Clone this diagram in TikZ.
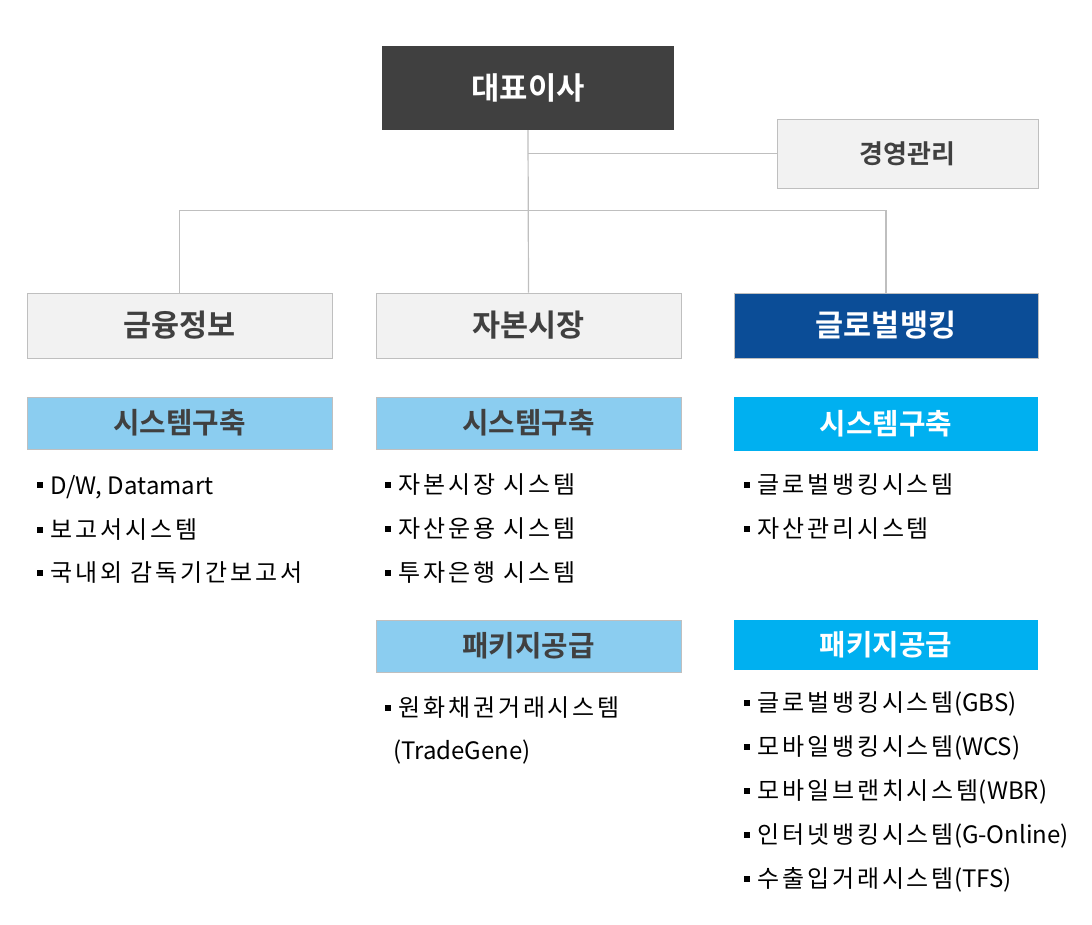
\documentclass[tikz,border=0pt]{standalone}
\usepackage{fontspec}
\setmainfont{Noto Sans CJK KR}[LetterSpace=12]
\newfontfamily\latinfont{Noto Sans CJK KR}
\newfontfamily\headfont{Noto Sans CJK KR Bold}
\definecolor{ceogray}{HTML}{404040}
\definecolor{boxgray}{HTML}{F2F2F2}
\definecolor{boxline}{HTML}{BFBFBF}
\definecolor{darktext}{HTML}{404040}
\definecolor{glbblue}{HTML}{0B4D97}
\definecolor{skyblue}{HTML}{8BCDF0}
\definecolor{cyanblue}{HTML}{00B0F0}
\newcommand{\itm}{\rule[6pt]{6pt}{6pt}\hspace{7pt}}
\newcommand{\lat}[1]{{\latinfont #1}}
\begin{document}
\begin{tikzpicture}[x=1pt,y=-1pt,
  link/.style={draw=boxline, line width=1.2pt},
  unit box/.style={draw=boxline, line width=1pt, fill=boxgray, text=darktext, inner sep=0pt,
    minimum width=305pt, minimum height=65pt, font=\headfont\fontsize{30.5}{32}\selectfont},
  sub box/.style={draw=boxline, line width=1pt, fill=skyblue, text=darktext, inner sep=0pt,
    minimum width=305pt, minimum height=52pt, font=\headfont\fontsize{28.8}{30}\selectfont},
  item/.style={anchor=west, inner sep=0pt, font=\fontsize{24}{28}\selectfont}]
  \useasboundingbox (0,0) rectangle (1092,924);

  % top level
  \node[fill=ceogray, text=white, inner sep=0pt, minimum width=292pt, minimum height=84pt,
    font=\headfont\fontsize{30.8}{32}\selectfont] (ceo) at (528,88) {대표이사};
  \node[unit box, minimum width=261pt, minimum height=69pt, font=\headfont\fontsize{26}{28}\selectfont]
    (mgmt) at (907.5,153.5) {경영관리};

  % divisions
  \node[unit box] (fin) at (179.5,325.5) {금융정보};
  \node[unit box] (cap) at (528.5,325.5) {자본시장};
  \node[unit box, fill=glbblue, text=white, minimum width=304pt] (glb) at (886,325.5) {글로벌뱅킹};

  \draw[link] (ceo.south) -- (cap.north);
  \draw[link] (ceo.south |- mgmt.west) -- (mgmt.west);
  \draw[link] (fin.north) -- ++(0,-82) -| (glb.north);

  % 금융정보
  \node[sub box] (finsys) at (179.5,423) {시스템구축};
  \node[item] (fin1) at (37,487) {\itm\lat{D/W, Datamart}};
  \node[item] (fin2) at (37,530) {\itm 보고서시스템};
  \node[item] (fin3) at (37,573) {\itm 국내외 감독기간보고서};

  % 자본시장
  \node[sub box] (capsys) at (528.5,423) {시스템구축};
  \node[item] (cap1) at (385,485) {\itm 자본시장 시스템};
  \node[item] (cap2) at (385,529) {\itm 자산운용 시스템};
  \node[item] (cap3) at (385,573) {\itm 투자은행 시스템};
  \node[sub box] (cappkg) at (528.5,646) {패키지공급};
  \node[item] (cap4) at (385,708) {\itm 원화채권거래시스템};
  \node[item] (cap5) at (393,752) {\lat{(TradeGene)}};

  % 글로벌뱅킹
  \node[sub box, draw=none, fill=cyanblue, text=white, minimum width=304pt, minimum height=54pt]
    (glbsys) at (886,424) {시스템구축};
  \node[item] (glb1) at (744,485) {\itm 글로벌뱅킹시스템};
  \node[item] (glb2) at (744,529) {\itm 자산관리시스템};
  \node[sub box, draw=none, fill=cyanblue, text=white, minimum width=304pt, minimum height=50pt]
    (glbpkg) at (886,645) {패키지공급};
  \node[item] (glb3) at (744,704) {\itm 글로벌뱅킹시스템\lat{(GBS)}};
  \node[item] (glb4) at (744,748) {\itm 모바일뱅킹시스템\lat{(WCS)}};
  \node[item] (glb5) at (744,792) {\itm 모바일브랜치시스템\lat{(WBR)}};
  \node[item] (glb6) at (744,836) {\itm 인터넷뱅킹시스템\lat{(G-Online)}};
  \node[item] (glb7) at (744,880) {\itm 수출입거래시스템\lat{(TFS)}};
\end{tikzpicture}
\end{document}
